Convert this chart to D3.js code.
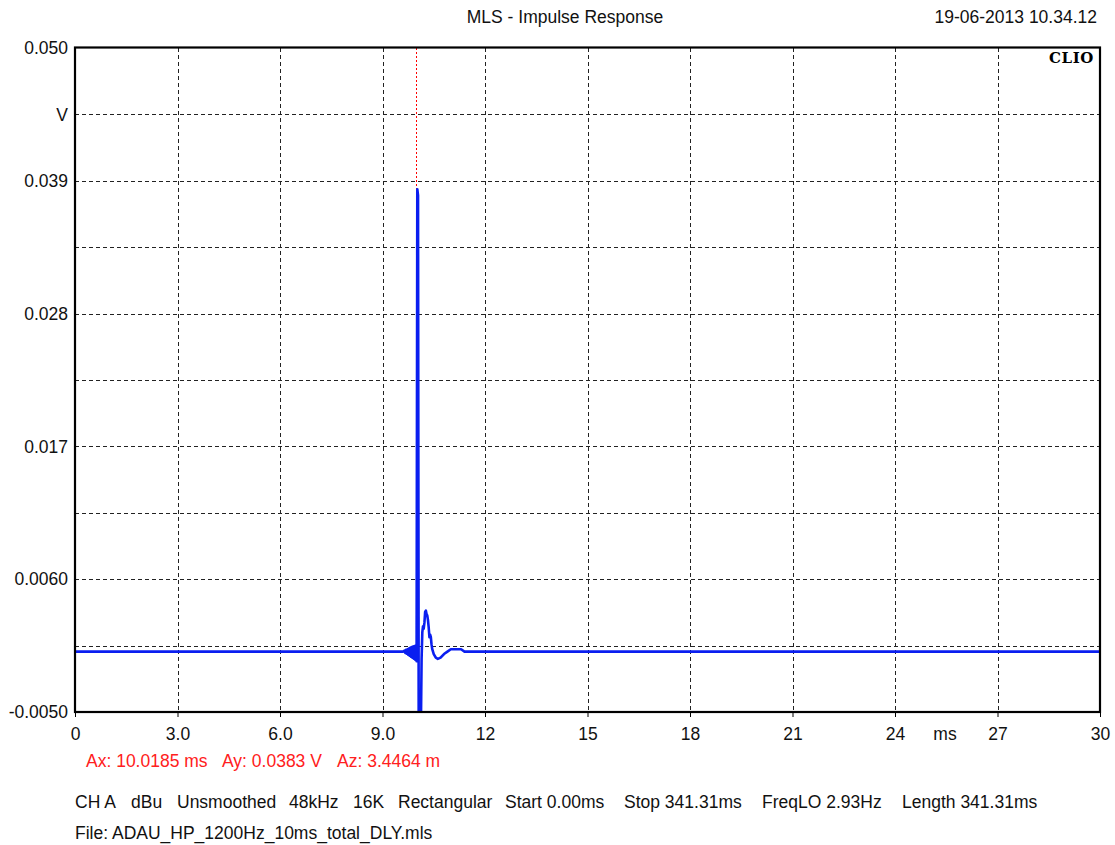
<!DOCTYPE html>
<html>
<head>
<meta charset="utf-8">
<script src="https://cdn.jsdelivr.net/npm/d3@7"></script>
<style>
  html, body { margin: 0; padding: 0; background: #fff; }
  svg { display: block; font-family: "Liberation Sans", Arial, sans-serif; }
</style>
</head>
<body>
<svg id="chart" width="1115" height="845"></svg>
<script>
// Impulse response samples (time in ms, amplitude in V)
const timeMs = [
  0.000, 9.600, 9.646, 9.667, 9.688, 9.708, 9.729, 9.750, 9.771, 9.792,
  9.813, 9.833, 9.854, 9.875, 9.896, 9.917, 9.938, 9.958, 9.979, 9.998,
  10.0185, 10.040, 10.060, 10.081, 10.102, 10.123, 10.144, 10.165, 10.185, 10.206,
  10.227, 10.248, 10.269, 10.290, 10.310, 10.331, 10.352, 10.373, 10.394, 10.415,
  10.435, 10.456, 10.500, 10.560, 10.620, 10.700, 10.800, 10.900, 11.000, 11.300,
  11.400, 30.000
];
const voltV = [
  0.0000, 0.0000, 0.00008, -0.0001, 0.00014, -0.00018, 0.0002, -0.00026, 0.00026, -0.00034,
  0.00032, -0.00042, 0.00038, -0.0005, 0.00042, -0.00058, 0.00046, -0.00066, 0.0005, -0.0008,
  0.0383, 0.0378, -0.0070, -0.0090, -0.0090, -0.0065, -0.0006, 0.0016, 0.0021, 0.0019,
  0.0024, 0.0033, 0.0034, 0.0031, 0.0030, 0.0026, 0.0020, 0.0012, 0.0014, 0.0012,
  0.0006, 0.0002, -0.0002, -0.0005, -0.0006, -0.0005, -0.0002, 0.0000, 0.0002, 0.0002,
  0.0000, 0.0000
];

// Axis ticks and labels
const xTicks = [0, 3, 6, 9, 12, 15, 18, 21, 24, 27, 30];
const xTickLabels = ["0", "3.0", "6.0", "9.0", "12", "15", "18", "21", "24", "27", "30"];
const yGrid = [-0.005, 0.0005, 0.006, 0.0115, 0.017, 0.0225, 0.028, 0.0335, 0.039, 0.0445, 0.050];
const yLabelValues = [0.050, 0.039, 0.028, 0.017, 0.006, -0.005];
const yLabels = ["0.050", "0.039", "0.028", "0.017", "0.0060", "-0.0050"];

// Cursor readout
const cursorX = 10.0185;
const cursorY = 0.0383;
const cursorItems = ["Ax: 10.0185 ms", "Ay: 0.0383 V", "Az: 3.4464 m"];

const titleText = "MLS - Impulse Response";
const dateText = "19-06-2013 10.34.12";
const infoItems = ["CH A", "dBu", "Unsmoothed", "48kHz", "16K", "Rectangular",
  "Start 0.00ms", "Stop 341.31ms", "FreqLO 2.93Hz", "Length 341.31ms"];
const fileLine = "File: ADAU_HP_1200Hz_10ms_total_DLY.mls";

// Layout
const cursorItemX = [86, 222, 337];
const infoItemX = [75, 131, 177, 289, 353, 398, 505, 624, 762, 902];
const FS = 17.5;

const svg = d3.select("#chart");
const plotL = 75, plotR = 1100, plotT = 48, plotB = 712;

const x = d3.scaleLinear().domain([0, 30]).range([plotL, plotR]);
const y = d3.scaleLinear().domain([-0.005, 0.050]).range([plotB, plotT]);

svg.append("defs").append("clipPath").attr("id", "plotClip")
  .append("rect").attr("x", plotL).attr("y", plotT)
  .attr("width", plotR - plotL).attr("height", plotB - plotT);

// Grid
const grid = svg.append("g").attr("stroke", "#222").attr("stroke-width", 1)
  .attr("stroke-dasharray", "4,3").attr("shape-rendering", "crispEdges");
grid.selectAll("line.v").data(xTicks.slice(1, -1)).enter().append("line")
  .attr("x1", d => Math.round(x(d)) + 0.5).attr("x2", d => Math.round(x(d)) + 0.5)
  .attr("y1", plotT).attr("y2", plotB);
grid.selectAll("line.h").data(yGrid.slice(1, -1)).enter().append("line")
  .attr("y1", d => Math.round(y(d)) + 0.5).attr("y2", d => Math.round(y(d)) + 0.5)
  .attr("x1", plotL).attr("x2", plotR);

// Cursor line (dotted red)
const cx = Math.round(x(cursorX)) - 0.5;
svg.append("line")
  .attr("x1", cx).attr("x2", cx)
  .attr("y1", plotT).attr("y2", y(cursorY))
  .attr("stroke", "#ff0000").attr("stroke-width", 1)
  .attr("stroke-dasharray", "2,2");

// Waveform
const pts = timeMs.map((t, i) => [t, voltV[i]]);
svg.append("path")
  .datum(pts)
  .attr("clip-path", "url(#plotClip)")
  .attr("fill", "none")
  .attr("stroke", "#0a1ef0")
  .attr("stroke-width", 2.6)
  .attr("stroke-linejoin", "round")
  .attr("d", d3.line().x(d => x(d[0])).y(d => y(d[1])));

// Frame
svg.append("rect")
  .attr("x", plotL).attr("y", plotT - 0.5)
  .attr("width", plotR - plotL).attr("height", plotB - plotT + 0.5)
  .attr("fill", "none").attr("stroke", "#000").attr("stroke-width", 2.2);

// X axis
const xAxis = d3.axisBottom(x).tickValues(xTicks)
  .tickFormat((d, i) => xTickLabels[i]).tickSize(5).tickPadding(11);
const gx = svg.append("g").attr("transform", `translate(0,${plotB})`).call(xAxis);
gx.select(".domain").remove();
gx.selectAll(".tick line").attr("stroke", "#000").attr("stroke-width", 1);
gx.selectAll(".tick text").attr("font-size", FS).attr("fill", "#111")
  .attr("font-family", "Liberation Sans, Arial, sans-serif");

svg.append("text").attr("x", 945).attr("y", 740.4)
  .attr("text-anchor", "middle").attr("font-size", FS).attr("fill", "#111").text("ms");

// Y axis labels
const yAxis = d3.axisLeft(y).tickValues(yLabelValues)
  .tickFormat((d, i) => yLabels[i]).tickSize(0).tickPadding(7);
const gy = svg.append("g").attr("transform", `translate(${plotL},0)`).call(yAxis);
gy.select(".domain").remove();
gy.selectAll(".tick text").attr("font-size", FS).attr("fill", "#111")
  .attr("font-family", "Liberation Sans, Arial, sans-serif");

svg.append("text").attr("x", 68).attr("y", y(0.0445)).attr("dy", "0.35em")
  .attr("text-anchor", "end").attr("font-size", FS).attr("fill", "#111").text("V");

// Header
svg.append("text").attr("x", 565).attr("y", 23).attr("text-anchor", "middle")
  .attr("font-size", FS).attr("fill", "#111").text(titleText);
svg.append("text").attr("x", 1097).attr("y", 23).attr("text-anchor", "end")
  .attr("font-size", FS).attr("fill", "#111").text(dateText);

svg.append("text").attr("x", 1094).attr("y", 63).attr("text-anchor", "end")
  .attr("font-family", "DejaVu Serif, Liberation Serif, serif")
  .attr("font-weight", "bold").attr("font-size", 15)
  .attr("letter-spacing", 0.6).attr("fill", "#000").text("CLIO");

// Footer: cursor readout
svg.append("g").selectAll("text").data(cursorItems).enter().append("text")
  .attr("x", (d, i) => cursorItemX[i]).attr("y", 767)
  .attr("font-size", FS).attr("fill", "#ff2020").text(d => d);

// Footer: acquisition settings
svg.append("g").selectAll("text").data(infoItems).enter().append("text")
  .attr("x", (d, i) => infoItemX[i]).attr("y", 808)
  .attr("font-size", FS).attr("fill", "#111").text(d => d);

svg.append("text").attr("x", 75).attr("y", 839).attr("font-size", FS)
  .attr("fill", "#111").text(fileLine);
</script>
</body>
</html>
